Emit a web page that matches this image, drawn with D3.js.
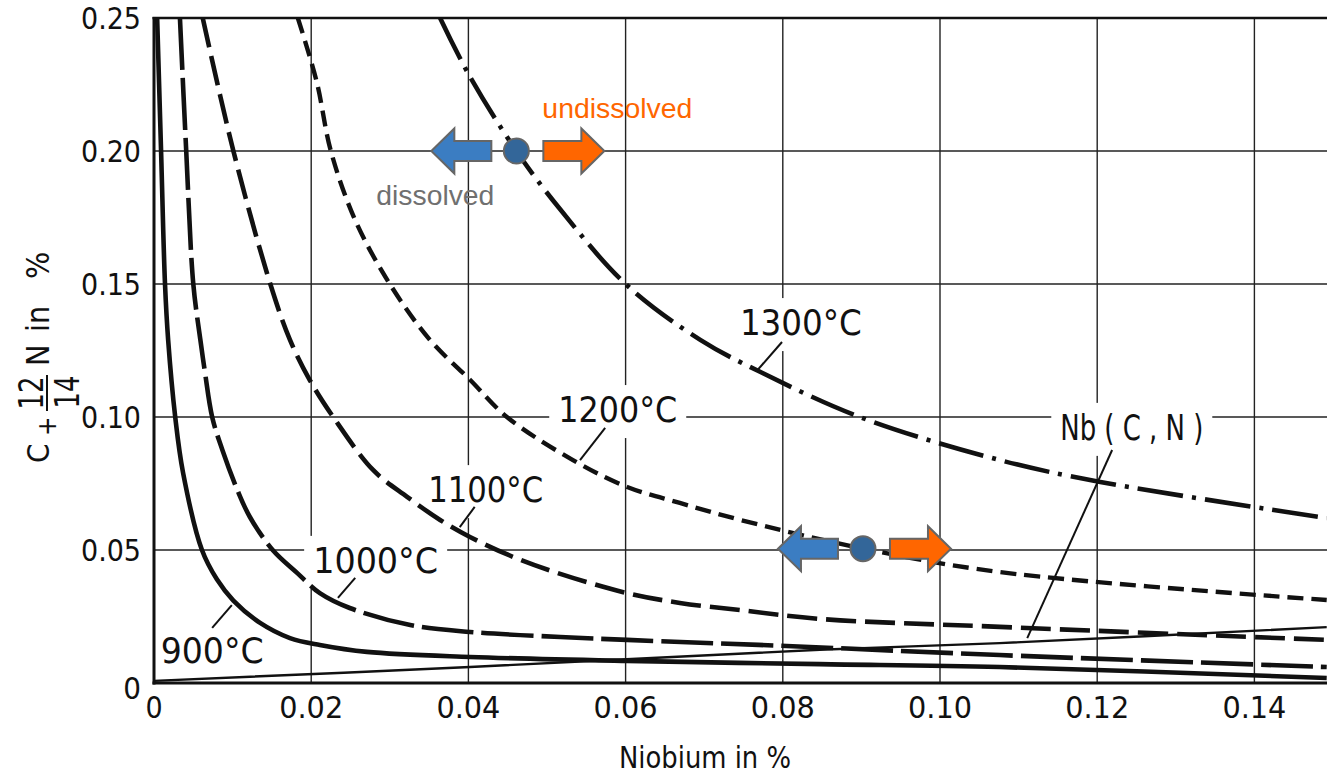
<!DOCTYPE html>
<html><head><meta charset="utf-8">
<script src="https://cdn.jsdelivr.net/npm/d3@7/dist/d3.min.js"></script>
<style>body{margin:0;background:#fff;overflow:hidden}svg{display:block}</style>
</head><body>
<script>
// ---- data ----
const xTicks = [0, 0.02, 0.04, 0.06, 0.08, 0.10, 0.12, 0.14];
const xTickLabels = ["0", "0.02", "0.04", "0.06", "0.08", "0.10", "0.12", "0.14"];
const yTicks = [0, 0.05, 0.10, 0.15, 0.20, 0.25];
const yTickLabels = ["0", "0.05", "0.10", "0.15", "0.20", "0.25"];

const t900X = [0.0004, 0.0009, 0.0014, 0.0018, 0.0027, 0.0037, 0.0061, 0.0080, 0.0101, 0.0135, 0.0173, 0.0211, 0.0271, 0.0402, 0.0602, 0.0847, 0.1076, 0.1492];
const t900Y = [0.25, 0.20, 0.15, 0.129, 0.100, 0.079, 0.050, 0.039, 0.031, 0.0226, 0.0169, 0.0143, 0.0117, 0.0098, 0.0083, 0.0071, 0.0060, 0.0019];

const t1000X = [0.0033, 0.0041, 0.0050, 0.0059, 0.0065, 0.0074, 0.0087, 0.0106, 0.0122, 0.0151, 0.0182, 0.0211, 0.0249, 0.0326, 0.0402, 0.0517, 0.0602, 0.0805, 0.1076, 0.1492];
const t1000Y = [0.25, 0.20, 0.15, 0.129, 0.1165, 0.100, 0.0876, 0.0726, 0.0624, 0.050, 0.0414, 0.0338, 0.0282, 0.0218, 0.0192, 0.0173, 0.0162, 0.0139, 0.0105, 0.0060];

const t1100X = [0.0062, 0.0101, 0.0148, 0.0173, 0.0198, 0.0228, 0.0279, 0.0322, 0.0364, 0.0402, 0.0457, 0.0513, 0.0602, 0.0669, 0.0746, 0.0847, 0.1076, 0.1492];
const t1100Y = [0.25, 0.20, 0.15, 0.129, 0.114, 0.100, 0.080, 0.070, 0.0613, 0.0549, 0.0474, 0.0414, 0.0338, 0.0301, 0.0274, 0.0241, 0.0211, 0.0162];

const t1200X = [0.0183, 0.0207, 0.0225, 0.0256, 0.0300, 0.0351, 0.0402, 0.0449, 0.0533, 0.0602, 0.0669, 0.0746, 0.0898, 0.1076, 0.1492];
const t1200Y = [0.25, 0.226, 0.20, 0.174, 0.150, 0.129, 0.114, 0.100, 0.0838, 0.0737, 0.0677, 0.0613, 0.0508, 0.0417, 0.0312];

const t1300X = [0.0364, 0.0400, 0.0461, 0.0517, 0.0600, 0.0695, 0.0771, 0.0898, 0.1076, 0.1204, 0.1492];
const t1300Y = [0.25, 0.229, 0.200, 0.178, 0.150, 0.129, 0.117, 0.100, 0.0838, 0.0756, 0.0620];

const nbcnX = [0, 0.0402, 0.0847, 0.1076, 0.1492];
const nbcnY = [0.0008, 0.0060, 0.0125, 0.0150, 0.0210];

// curve labels: text, text centre/baseline (data units), leader start, leader end
const labelTexts = ["900°C", "1000°C", "1100°C", "1200°C", "1300°C", "Nb ( C , N )"];
const labelX = [0.0074, 0.0282, 0.0422, 0.0590, 0.0823, 0.1244];
const labelY = [0.0075, 0.0414, 0.0680, 0.0981, 0.1308, 0.0914];
const leaderX1 = [0.0074, 0.0256, 0.0408, 0.0574, 0.0799, 0.1219];
const leaderY1 = [0.0207, 0.0395, 0.0662, 0.0959, 0.1282, 0.0876];
const leaderX2 = [0.0099, 0.0234, 0.0389, 0.0542, 0.0768, 0.1111];
const leaderY2 = [0.0293, 0.0320, 0.0586, 0.0838, 0.1177, 0.0169];

// dissolution markers
const markerX = [0.0461, 0.0902];
const markerY = [0.2000, 0.0505];

// ---- drawing ----
const W = 1327, H = 778;
const svg = d3.select("body").append("svg").attr("width", W).attr("height", H);
const x = d3.scaleLinear().domain([0, 0.15]).range([154, 1333]);
const y = d3.scaleLinear().domain([0, 0.25]).range([683, 18]);
const FONT = "'DejaVu Sans Condensed','DejaVu Sans',sans-serif";
const INK = "#111";

svg.append("defs").append("clipPath").attr("id", "plot")
  .append("rect").attr("x", x(0)).attr("y", y(0.25)).attr("width", x(0.15) - x(0)).attr("height", y(0) - y(0.25));

// grid
const grid = svg.append("g").attr("stroke", "#222").attr("stroke-width", 1.4);
grid.selectAll("line.v").data(xTicks.slice(1)).join("line")
  .attr("x1", d => x(d)).attr("x2", d => x(d)).attr("y1", y(0.25)).attr("y2", y(0));
grid.selectAll("line.h").data(yTicks.slice(1, -1)).join("line")
  .attr("x1", x(0)).attr("x2", x(0.15)).attr("y1", d => y(d)).attr("y2", d => y(d));

// label backgrounds layer (erases grid under labels)
const bgLayer = svg.append("g");

// curves
const series = [
  {xs: t900X, ys: t900Y, dash: null, w: 4.6},
  {xs: t1000X, ys: t1000Y, dash: "52,8", w: 4.6},
  {xs: t1100X, ys: t1100Y, dash: "30,9", w: 4.6},
  {xs: t1200X, ys: t1200Y, dash: "16,8", w: 4.4},
  {xs: t1300X, ys: t1300Y, dash: "46,9,4,9", w: 4.6},
  {xs: nbcnX, ys: nbcnY, dash: null, w: 2.4}
];
const line = d3.line().x(d => x(d[0])).y(d => y(d[1])).curve(d3.curveCatmullRom.alpha(0.5));
const curves = svg.append("g").attr("clip-path", "url(#plot)");
series.forEach(s => {
  curves.append("path").attr("d", line(s.xs.map((v, i) => [v, s.ys[i]])))
    .attr("fill", "none").attr("stroke", INK).attr("stroke-width", s.w)
    .attr("stroke-dasharray", s.dash).attr("stroke-linecap", "butt");
});

// frame
const frame = svg.append("g").attr("stroke", INK);
frame.append("line").attr("x1", x(0)).attr("x2", x(0)).attr("y1", y(0.25) - 1).attr("y2", y(0) + 1.5).attr("stroke-width", 3);
frame.append("line").attr("x1", x(0) - 1.5).attr("x2", W).attr("y1", y(0)).attr("y2", y(0)).attr("stroke-width", 3);
frame.append("line").attr("x1", x(0) - 1.5).attr("x2", W).attr("y1", y(0.25)).attr("y2", y(0.25)).attr("stroke-width", 2.4);

// tick labels
const tickFont = sel => sel.attr("font-family", FONT).attr("font-stretch", "condensed").attr("fill", INK);
svg.append("g").selectAll("text").data(yTicks).join("text")
  .attr("x", 141).attr("y", (d, i) => y(d) + (i === 0 ? 5 : 0)).attr("dy", "0.36em")
  .attr("text-anchor", "end").attr("font-size", 31).call(tickFont)
  .attr("textLength", (d, i) => i === 0 ? null : 60).attr("lengthAdjust", "spacingAndGlyphs")
  .text((d, i) => yTickLabels[i]);
svg.append("g").selectAll("text").data(xTicks).join("text")
  .attr("x", d => x(d)).attr("y", 718)
  .attr("text-anchor", "middle").attr("font-size", 30).call(tickFont)
  .attr("textLength", (d, i) => i === 0 ? null : 64).attr("lengthAdjust", "spacingAndGlyphs")
  .text((d, i) => xTickLabels[i]);

// axis titles
svg.append("text").attr("x", 705).attr("y", 768).attr("text-anchor", "middle")
  .attr("font-size", 31).call(tickFont)
  .attr("textLength", 172).attr("lengthAdjust", "spacingAndGlyphs").text("Niobium in %");

const yt = svg.append("g").attr("transform", "translate(49,463) rotate(-90)")
  .attr("font-family", FONT).attr("font-stretch", "condensed").attr("fill", INK);
yt.append("text").attr("x", 0).attr("y", 0).attr("font-size", 31).text("C");
yt.append("text").attr("x", 27).attr("y", 7).attr("font-size", 26).text("+");
yt.append("text").attr("x", 70).attr("y", -6).attr("font-size", 34).attr("text-anchor", "middle")
  .attr("textLength", 33).attr("lengthAdjust", "spacingAndGlyphs").text("12");
yt.append("line").attr("x1", 52).attr("x2", 88).attr("y1", -2).attr("y2", -2).attr("stroke", INK).attr("stroke-width", 2);
yt.append("text").attr("x", 71).attr("y", 30).attr("font-size", 34).attr("text-anchor", "middle")
  .attr("textLength", 33).attr("lengthAdjust", "spacingAndGlyphs").text("14");
yt.append("text").attr("x", 97).attr("y", 0).attr("font-size", 32).text("N");
yt.append("text").attr("x", 131).attr("y", 0).attr("font-size", 32).text("in");
yt.append("text").attr("x", 184).attr("y", 0).attr("font-size", 32).text("%");

// curve labels with leaders
const labelWidths = [103, 125, 115, 119, 122, 143];
const labels = svg.append("g");
labelTexts.forEach((t, i) => {
  const tx = labels.append("text").attr("x", x(labelX[i])).attr("y", y(labelY[i]))
    .attr("text-anchor", "middle").attr("font-size", 36).call(tickFont)
    .attr("textLength", labelWidths[i]).attr("lengthAdjust", "spacingAndGlyphs").text(t);
  const bb = tx.node().getBBox();
  bgLayer.append("rect").attr("x", bb.x - 9).attr("y", bb.y - 4).attr("width", bb.width + 18).attr("height", bb.height + 12).attr("fill", "#fff");
  labels.append("line").attr("x1", x(leaderX1[i])).attr("y1", y(leaderY1[i]))
    .attr("x2", x(leaderX2[i])).attr("y2", y(leaderY2[i])).attr("stroke", INK).attr("stroke-width", 2);
});

// dissolved / undissolved markers
const mk = svg.append("g").attr("stroke", "#666").attr("stroke-width", 2).attr("stroke-linejoin", "miter");
markerX.forEach((mx, i) => {
  const cx = x(mx), cy = y(markerY[i]);
  const p1 = d3.path();
  p1.moveTo(cx - 85, cy); p1.lineTo(cx - 62, cy - 22.5); p1.lineTo(cx - 62, cy - 10);
  p1.lineTo(cx - 25, cy - 10); p1.lineTo(cx - 25, cy + 10); p1.lineTo(cx - 62, cy + 10);
  p1.lineTo(cx - 62, cy + 22.5); p1.closePath();
  mk.append("path").attr("fill", "#3b7dc2").attr("d", p1.toString());
  const p2 = d3.path();
  p2.moveTo(cx + 88, cy); p2.lineTo(cx + 65, cy - 22.5); p2.lineTo(cx + 65, cy - 10);
  p2.lineTo(cx + 27, cy - 10); p2.lineTo(cx + 27, cy + 10); p2.lineTo(cx + 65, cy + 10);
  p2.lineTo(cx + 65, cy + 22.5); p2.closePath();
  mk.append("path").attr("fill", "#ff6600").attr("d", p2.toString());
  mk.append("circle").attr("cx", cx).attr("cy", cy).attr("r", 12.5).attr("fill", "#336699");
});

const cx0 = x(markerX[0]), cy0 = y(markerY[0]);
svg.append("text").attr("x", cx0 + 26).attr("y", cy0 - 33).attr("font-family", "'Liberation Sans',Arial,sans-serif")
  .attr("font-size", 27).attr("textLength", 150).attr("lengthAdjust", "spacingAndGlyphs")
  .attr("fill", "#ff6600").text("undissolved");
svg.append("text").attr("x", cx0 - 140).attr("y", cy0 + 54).attr("font-family", "'Liberation Sans',Arial,sans-serif")
  .attr("font-size", 27).attr("textLength", 118).attr("lengthAdjust", "spacingAndGlyphs")
  .attr("fill", "#707070").text("dissolved");
</script>
</body></html>
